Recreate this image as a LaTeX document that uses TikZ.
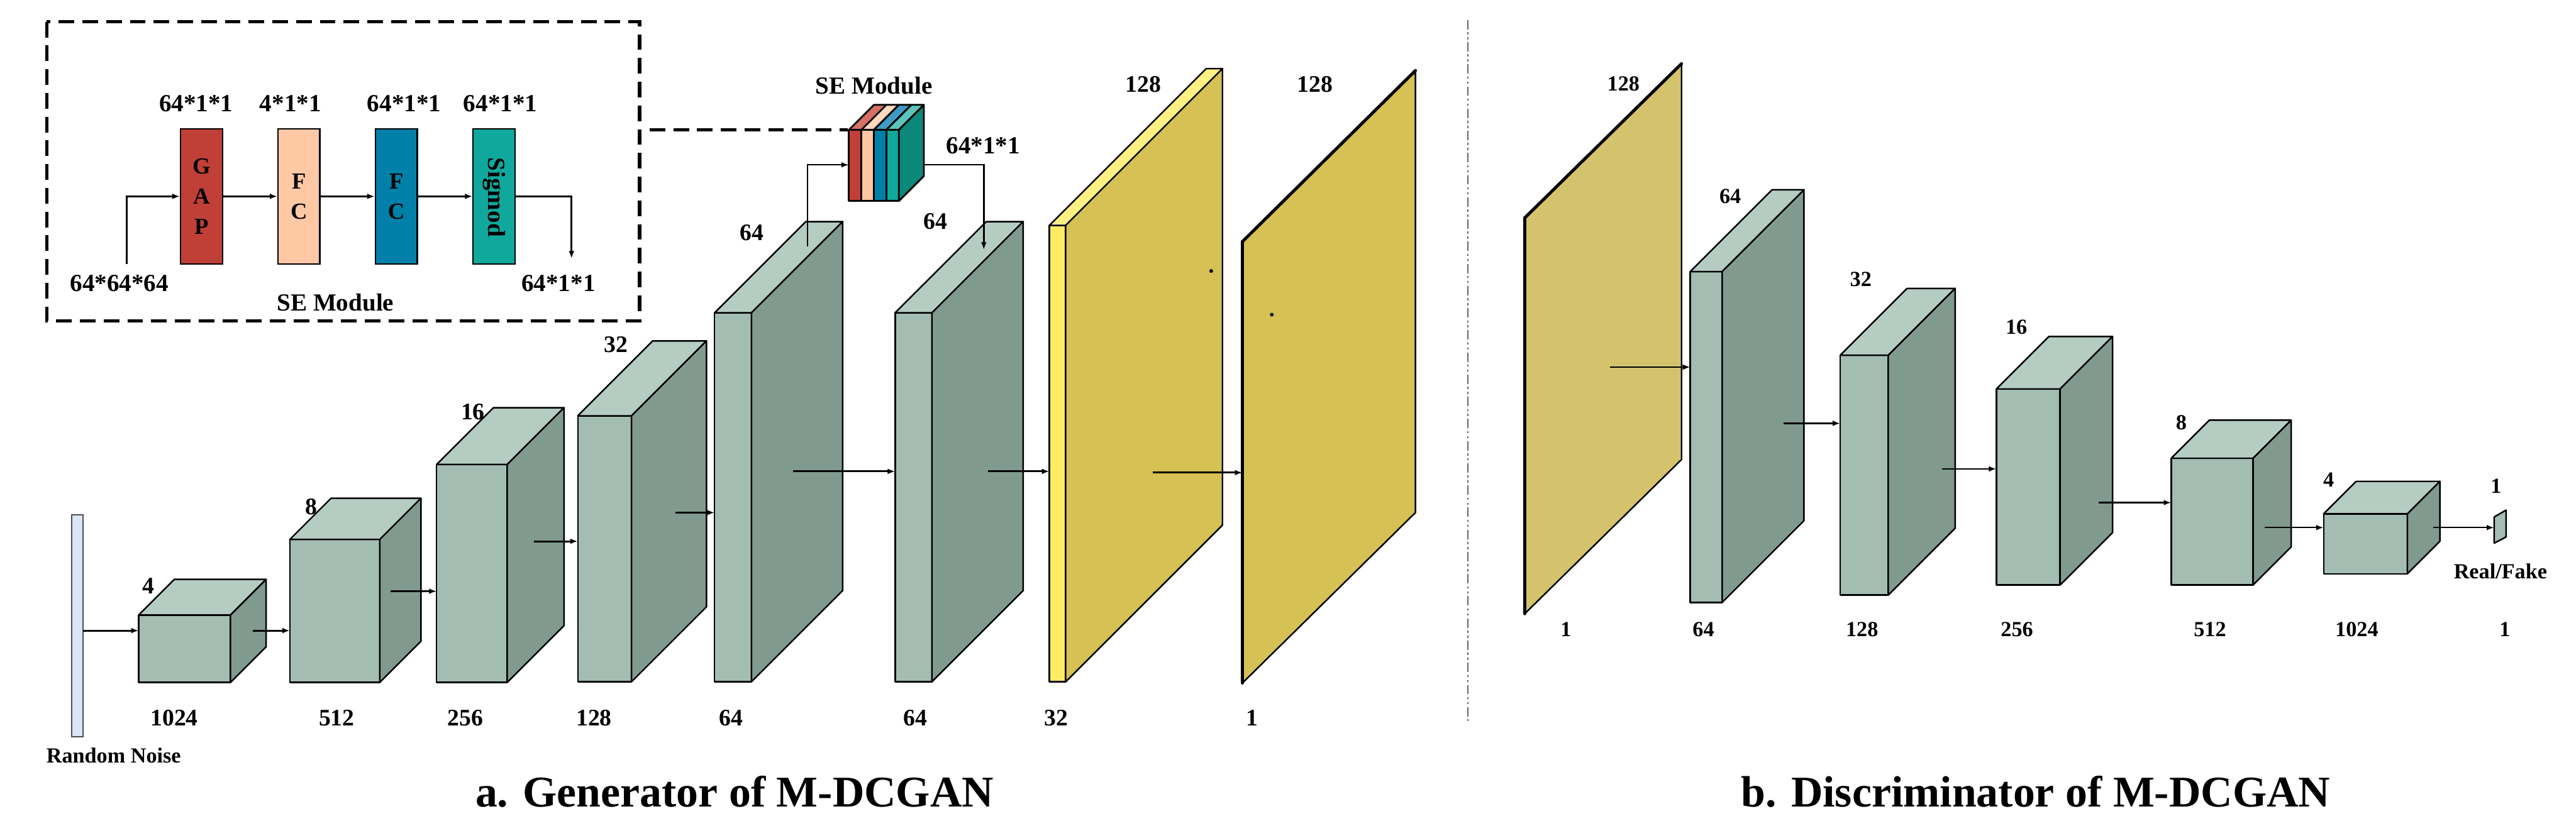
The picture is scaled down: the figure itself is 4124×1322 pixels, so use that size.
\documentclass[tikz,border=0pt]{standalone}
\usepackage{fontspec}
\setmainfont{Liberation Serif}
\usetikzlibrary{arrows.meta}
\definecolor{tF}{RGB}{163,189,179}
\definecolor{tT}{RGB}{181,204,195}
\definecolor{tS}{RGB}{128,154,143}
\definecolor{yF}{RGB}{255,236,100}
\definecolor{yT}{RGB}{255,240,130}
\definecolor{yS}{RGB}{213,193,84}
\definecolor{dplane}{RGB}{212,195,108}
\definecolor{noise}{RGB}{218,230,246}
\definecolor{gapred}{RGB}{192,64,56}
\definecolor{peach}{RGB}{255,200,165}
\definecolor{fcblue}{RGB}{0,128,168}
\definecolor{sigteal}{RGB}{16,168,156}
\definecolor{darkteal}{RGB}{12,136,122}
\definecolor{redtop}{RGB}{214,112,102}
\definecolor{peachtop}{RGB}{255,216,192}
\definecolor{bluetop}{RGB}{62,156,196}
\definecolor{tealtop}{RGB}{92,196,186}
\newcommand{\cuboid}[6]{%
  \filldraw[blk, fill=#1F] (#2,#3) rectangle ++(#4,#5);
  \filldraw[blk, fill=#1T] (#2,#3) -- ++(#6,-#6) -- ++(#4,0) -- ++(-#6,#6) -- cycle;
  \filldraw[blk, fill=#1S] (#2+#4,#3) -- ++(#6,-#6) -- ++(0,#5) -- ++(-#6,#6) -- cycle;}
\newcommand{\seslice}[3]{%
  \filldraw[blk, line width=0.8pt, fill=#2] (#1,208) rectangle ++(20,114);
  \filldraw[blk, line width=0.8pt, fill=#3] (#1,208) -- ++(40,-40) -- ++(20,0) -- ++(-40,40) -- cycle;}
\begin{document}
\begin{tikzpicture}[x=0.1mm,y=-0.1mm,
  blk/.style={draw=black, line width=0.7pt, line join=round},
  arr/.style={-{Latex[length=1.2mm,width=0.9mm]}, line width=0.8pt},
  lab/.style={font=\fontsize{10.8pt}{12pt}\selectfont\bfseries, inner sep=0pt},
  dlab/.style={font=\fontsize{9.8pt}{11pt}\selectfont\bfseries, inner sep=0pt},
  selab/.style={font=\fontsize{11.2pt}{12pt}\selectfont\bfseries, inner sep=0pt},
  ttl/.style={font=\fontsize{20pt}{22pt}\selectfont\bfseries, inner sep=0pt},
  sebx/.style={draw=black, line width=0.6pt, minimum width=6.7mm, minimum height=21.7mm, inner sep=0pt, align=center,
    font=\fontsize{10.5pt}{13.7pt}\selectfont\bfseries},
  dbox/.style={line width=1.5pt, dash pattern=on 2.5mm off 1.3mm}]
\useasboundingbox (0,0) rectangle (4124,1322);

% ---------- SE module detail ----------
\draw[dbox] (75,35) rectangle (1024,514);
\node[sebx, fill=gapred] (gap) at (322.5,314.5) {G\\A\\P};
\node[sebx, fill=peach] (fc1) at (478.5,314.5) {F\\C};
\node[sebx, fill=fcblue] (fc2) at (634.5,314.5) {F\\C};
\node[sebx, fill=sigteal] (sig) at (791,314.5) {};
\node[selab, rotate=-90] (sigt) at (791,316) {Sigmod};
\coordinate (sein) at (203,423);
\coordinate (seout) at (915,414);
\draw[arr] (sein) |- (gap.west);
\draw[arr] (gap.east) -- (fc1.west);
\draw[arr] (fc1.east) -- (fc2.west);
\draw[arr] (fc2.east) -- (sig.west);
\draw[arr] (sig.east) -| (seout);
\node[selab] (l1) at (314,166) {64*1*1};
\node[selab] (l2) at (465,166) {4*1*1};
\node[selab] (l3) at (647,166) {64*1*1};
\node[selab] (l4) at (801,166) {64*1*1};
\node[selab] (l5) at (191,454) {64*64*64};
\node[selab] (l6) at (894,454) {64*1*1};
\node[selab] (l7) at (537,484) {SE Module};

% ---------- Generator ----------
\filldraw[draw=gray!60!black, fill=noise, line width=0.6pt] (115,825) rectangle (133,1180);
\node[dlab] (rn) at (182,1210) {Random Noise};
\cuboid{t}{222}{985}{147}{108}{57}
\cuboid{t}{464}{864}{144}{229}{66}
\cuboid{t}{699}{744}{113}{349}{91}
\cuboid{t}{925}{666}{86}{426}{120}
\cuboid{t}{1144}{501}{59}{591}{146}
\cuboid{t}{1433}{501}{59}{591}{146}
% SE block
\seslice{1359}{gapred}{redtop}
\seslice{1379}{peach}{peachtop}
\seslice{1399}{fcblue}{bluetop}
\seslice{1419}{sigteal}{tealtop}
\filldraw[blk, line width=0.8pt, fill=darkteal] (1439,208) -- ++(40,-40) -- ++(0,114) -- ++(-40,40) -- cycle;
\coordinate (sebIn) at (1359,264);
\coordinate (sebOut) at (1479,264);
\coordinate (sebL) at (1357,208);
\coordinate (boxR) at (1040,208);
\draw[dbox] (boxR) -- (sebL);
\coordinate (g64a) at (1293,395);
\coordinate (g64b) at (1575,400);
\draw[arr, line width=0.7pt] (g64a) |- (sebIn);
\draw[arr, line width=0.7pt] (sebOut) -| (g64b);
% yellow 128x128x32
\cuboid{y}{1680}{361}{26}{731}{251}
\fill (1939,434) circle (3);
% output plane
\filldraw[blk, fill=yS] (1989,1094) -- (1989,387) -- (2266,113) -- (2266,821) -- cycle;
\draw[line width=1.4pt, line cap=round] (1989,1094) -- (1989,387) -- (2266,113);
\fill (2036,504) circle (3);

% generator arrows
\coordinate (a0s) at (133,1010); \coordinate (a0e) at (222,1010);
\coordinate (a1s) at (405,1010); \coordinate (a1e) at (464,1010);
\coordinate (a2s) at (625,947);  \coordinate (a2e) at (699,947);
\coordinate (a3s) at (855,867);  \coordinate (a3e) at (925,867);
\coordinate (a4s) at (1081,821); \coordinate (a4e) at (1144,821);
\coordinate (a5s) at (1270,755); \coordinate (a5e) at (1433,755);
\coordinate (a6s) at (1582,755); \coordinate (a6e) at (1680,755);
\coordinate (a7s) at (1846,757); \coordinate (a7e) at (1989,757);
\foreach \i in {0,...,7} {\draw[arr] (a\i s) -- (a\i e);}

% generator labels
\node[lab] at (238,938) {4};
\node[lab] at (498,812) {8};
\node[lab] at (757,660) {16};
\node[lab] at (986,552) {32};
\node[lab] at (1204,373) {64};
\node[lab] at (1498,355) {64};
\node[selab] at (1399,137) {SE Module};
\node[selab] at (1574,233) {64*1*1};
\node[lab] at (1830,135) {128};
\node[lab] at (2105,135) {128};
\node[lab] at (279,1150) {1024};
\node[lab] at (539,1150) {512};
\node[lab] at (745,1150) {256};
\node[lab] at (951,1150) {128};
\node[lab] at (1170,1150) {64};
\node[lab] at (1465,1150) {64};
\node[lab] at (1691,1150) {32};
\node[lab] at (2005,1150) {1};
\node[ttl] (ta) at (1176,1268) {a. Generator of M-DCGAN};

% separator (dash-dot-dot)
\draw[gray!80!black, line width=0.6pt, dash pattern=on 1.5mm off 0.45mm on 0.35mm off 0.45mm on 0.35mm off 0.45mm] (2350,32) -- (2350,1155);

% ---------- Discriminator ----------
\filldraw[blk, fill=dplane] (2441,983) -- (2441,349) -- (2692,102) -- (2692,736) -- cycle;
\draw[line width=1.4pt, line cap=round] (2441,983) -- (2441,349) -- (2692,102);
\cuboid{t}{2706}{435}{51}{530}{131}
\cuboid{t}{2946}{569}{77}{384}{107}
\cuboid{t}{3196}{623}{102}{314}{84}
\cuboid{t}{3476}{734}{131}{203}{61}
\cuboid{t}{3720}{823}{134}{96}{52}
\filldraw[blk, fill=tF] (3993,870) -- (3993,828) -- (4012,817) -- (4012,860) -- cycle;
\coordinate (d0s) at (2577,588); \coordinate (d0e) at (2706,588);
\coordinate (d1s) at (2855,678); \coordinate (d1e) at (2946,678);
\coordinate (d2s) at (3109,751); \coordinate (d2e) at (3196,751);
\coordinate (d3s) at (3360,805); \coordinate (d3e) at (3476,805);
\coordinate (d4s) at (3626,845); \coordinate (d4e) at (3720,845);
\coordinate (d5s) at (3895,845); \coordinate (d5e) at (3993,845);
\foreach \i in {0,...,5} {\draw[arr, line width=0.7pt] (d\i s) -- (d\i e);}
\node[dlab] at (2599,134) {128};
\node[dlab] at (2770,314) {64};
\node[dlab] at (2979,447) {32};
\node[dlab] at (3228,524) {16};
\node[dlab] at (3492,677) {8};
\node[dlab] at (3728,768) {4};
\node[dlab] at (3996,778) {1};
\node[dlab] at (4003,915) {Real/Fake};
\node[dlab] at (2507,1008) {1};
\node[dlab] at (2727,1008) {64};
\node[dlab] at (2981,1008) {128};
\node[dlab] at (3229,1008) {256};
\node[dlab] at (3538,1008) {512};
\node[dlab] at (3773,1008) {1024};
\node[dlab] at (4010,1008) {1};
\node[ttl] (tb) at (3259,1268) {b. Discriminator of M-DCGAN};
\end{tikzpicture}
\end{document}
